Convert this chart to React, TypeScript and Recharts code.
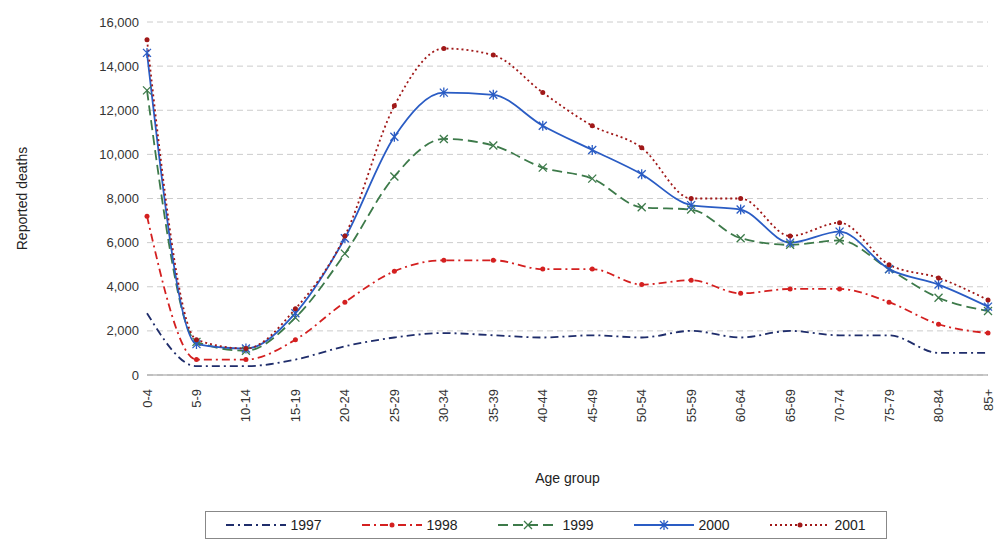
import { LineChart, Line, XAxis, YAxis, CartesianGrid } from "recharts"

const ages = ["0-4","5-9","10-14","15-19","20-24","25-29","30-34","35-39","40-44","45-49","50-54","55-59","60-64","65-69","70-74","75-79","80-84","85+"]
const y1997 = [2800,400,400,700,1300,1700,1900,1800,1700,1800,1700,2000,1700,2000,1800,1800,1000,1000]
const y1998 = [7200,700,700,1600,3300,4700,5200,5200,4800,4800,4100,4300,3700,3900,3900,3300,2300,1900]
const y1999 = [12900,1500,1100,2600,5500,9000,10700,10400,9400,8900,7600,7500,6200,5900,6100,4800,3500,2900]
const y2000 = [14600,1400,1200,2800,6200,10800,12800,12700,11300,10200,9100,7700,7500,6000,6500,4800,4100,3100]
const y2001 = [15200,1600,1200,3000,6300,12200,14800,14500,12800,11300,10300,8000,8000,6300,6900,5000,4400,3400]
const yTicks = [0,2000,4000,6000,8000,10000,12000,14000,16000]

const data = ages.map((a, i) => ({ age: a, "1997": y1997[i], "1998": y1998[i], "1999": y1999[i], "2000": y2000[i], "2001": y2001[i] }))

const series = [
  { key: "1997", color: "#1f2d6b", dash: "8 4 2 4", mark: "none" },
  { key: "1998", color: "#d42020", dash: "8 4 2 4", mark: "dot" },
  { key: "1999", color: "#3d7a4a", dash: "10 5", mark: "cross" },
  { key: "2000", color: "#2a5cc4", dash: undefined, mark: "star" },
  { key: "2001", color: "#a01818", dash: "2 3", mark: "dot" },
]

const marker = (mark: string, color: string, cx: number, cy: number, k?: any) => {
  if (mark === "dot") return <circle key={k} cx={cx} cy={cy} r={2.5} fill={color} />
  if (mark === "cross") return <path key={k} d={`M${cx - 4},${cy - 4}L${cx + 4},${cy + 4}M${cx - 4},${cy + 4}L${cx + 4},${cy - 4}`} stroke={color} strokeWidth={1.3} />
  if (mark === "star") return <path key={k} d={`M${cx - 4},${cy - 4}L${cx + 4},${cy + 4}M${cx - 4},${cy + 4}L${cx + 4},${cy - 4}M${cx},${cy - 5}L${cx},${cy + 5}`} stroke={color} strokeWidth={1.3} />
  return <g key={k} />
}

const VertTick = (p: any) => (
  <text x={p.x} y={p.y + 6} transform={`rotate(-90 ${p.x} ${p.y + 6})`} textAnchor="end" dominantBaseline="central" fontSize={13} fill="#333">
    {p.payload.value}
  </text>
)

export default function App() {
  return (
    <div style={{ position: "absolute", left: 0, top: 0, width: 1003, height: 546, background: "#fff", fontFamily: "Liberation Sans, Arial, sans-serif" }}>
      <LineChart width={1003} height={546} data={data} margin={{ top: 22, right: 15, bottom: 61, left: 77 }}>
        <CartesianGrid vertical={false} stroke="#ccc" strokeDasharray="6 4" />
        <XAxis dataKey="age" tick={<VertTick />} interval={0} height={110} tickLine={false} axisLine={{ stroke: "#999" }}
          label={{ value: "Age group", position: "insideBottom", offset: 2, fontSize: 14, fill: "#222" }} />
        <YAxis ticks={yTicks} domain={[0, 16000]} width={70} tickFormatter={(v: number) => v.toLocaleString("en-US")}
          tick={{ fontSize: 13, fill: "#333" }} tickLine={false} axisLine={false}
          label={{ value: "Reported deaths", angle: -90, position: "insideLeft", offset: -55, fontSize: 14, fill: "#222", style: { textAnchor: "middle" } }} />
        {series.map((s) => (
          <Line key={s.key} type="monotone" dataKey={s.key} stroke={s.color} strokeWidth={1.8} strokeDasharray={s.dash}
            dot={(p: any) => marker(s.mark, s.color, p.cx, p.cy, p.index)} isAnimationActive={false} />
        ))}
      </LineChart>
      <div style={{ position: "absolute", left: 205, top: 511, width: 680, height: 26, border: "1px solid #888", display: "flex", alignItems: "center", justifyContent: "space-around", fontSize: 14, color: "#222" }}>
        {series.map((s) => (
          <span key={s.key} style={{ display: "flex", alignItems: "center", gap: 4 }}>
            <svg width={60} height={12}>
              <line x1={0} y1={6} x2={60} y2={6} stroke={s.color} strokeWidth={1.8} strokeDasharray={s.dash} />
              {marker(s.mark, s.color, 30, 6)}
            </svg>
            {s.key}
          </span>
        ))}
      </div>
    </div>
  )
}
